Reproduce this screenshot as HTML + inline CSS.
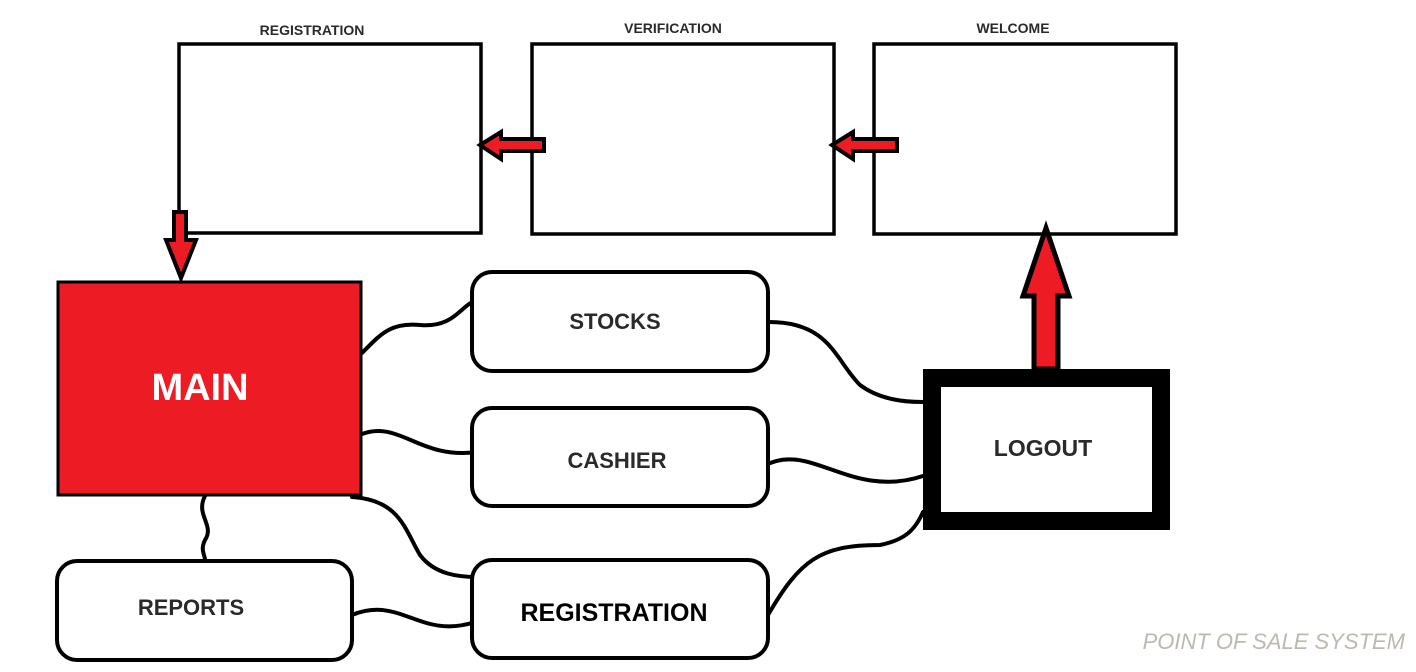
<!DOCTYPE html>
<html><head><style>
body{margin:0;background:#fff;width:1416px;height:672px;overflow:hidden}
svg{display:block}
text{font-family:"Liberation Sans",sans-serif;font-weight:bold;fill:#2a2a2a}
</style></head><body>
<svg width="1416" height="672" viewBox="0 0 1416 672">
<g fill="#fff" stroke="#000" stroke-width="3.5">
<rect x="179" y="44" width="302" height="189"/>
<rect x="532" y="44" width="302" height="190"/>
<rect x="874" y="44" width="302" height="190"/>
</g>
<text x="312" y="35" font-size="14" text-anchor="middle">REGISTRATION</text>
<text x="673" y="33" font-size="14" text-anchor="middle">VERIFICATION</text>
<text x="1013" y="33" font-size="14" text-anchor="middle">WELCOME</text>
<g fill="#ED1C24" stroke="#000" stroke-width="4" stroke-linejoin="miter">
<polygon points="480,145 501,132 501,139 544,139 544,151 501,151 501,159"/>
<polygon points="832,145 853,132 853,139 897,139 897,151 853,151 853,159"/>
<polygon points="174,212 186,212 186,240 196,240 181,278 166,240 174,240"/>
</g>
<rect x="58" y="282" width="303" height="213" fill="#ED1C24" stroke="#000" stroke-width="3"/>
<text x="200" y="400" font-size="38" text-anchor="middle" style="fill:#fff">MAIN</text>
<g fill="none" stroke="#000" stroke-width="4" stroke-linecap="round">
<path d="M362,353 C380,335 390,322 420,325 C455,328 460,305 477,300"/>
<path d="M769,322 C830,322 835,360 860,385 C880,400 905,402 923,402"/>
<path d="M362,434 C400,420 420,460 477,452"/>
<path d="M764,466 C810,440 850,500 923,476"/>
<path d="M352,497 C400,500 405,530 420,555 C435,575 460,577 477,577"/>
<path d="M205,496 C195,515 215,525 205,540 C200,550 205,555 205,560"/>
<path d="M352,615 C400,595 420,640 475,622"/>
<path d="M768,615 C800,560 820,545 880,545 C905,540 915,530 923,512"/>
</g>
<g fill="#fff" stroke="#000" stroke-width="4">
<rect x="472" y="272" width="296" height="99" rx="20"/>
<rect x="472" y="408" width="296" height="98" rx="20"/>
<rect x="472" y="560" width="296" height="98" rx="20"/>
<rect x="57" y="561" width="295" height="99" rx="20"/>
</g>
<text x="615" y="329" font-size="22" text-anchor="middle">STOCKS</text>
<text x="617" y="468" font-size="22" text-anchor="middle">CASHIER</text>
<text x="614" y="621" font-size="25" text-anchor="middle" style="fill:#000">REGISTRATION</text>
<text x="191" y="615" font-size="22" text-anchor="middle">REPORTS</text>
<rect x="932" y="378" width="229" height="143" fill="#fff" stroke="#000" stroke-width="18"/>
<text x="1043" y="456" font-size="23" text-anchor="middle">LOGOUT</text>
<polygon points="1046,228 1069,296 1058,296 1058,369 1034,369 1034,296 1023,296" fill="#ED1C24" stroke="#000" stroke-width="5"/>
<text x="1405" y="649" font-size="22" text-anchor="end" font-style="italic" style="fill:#bdb8b0;font-weight:normal">POINT OF SALE SYSTEM</text>
</svg>
</body></html>
